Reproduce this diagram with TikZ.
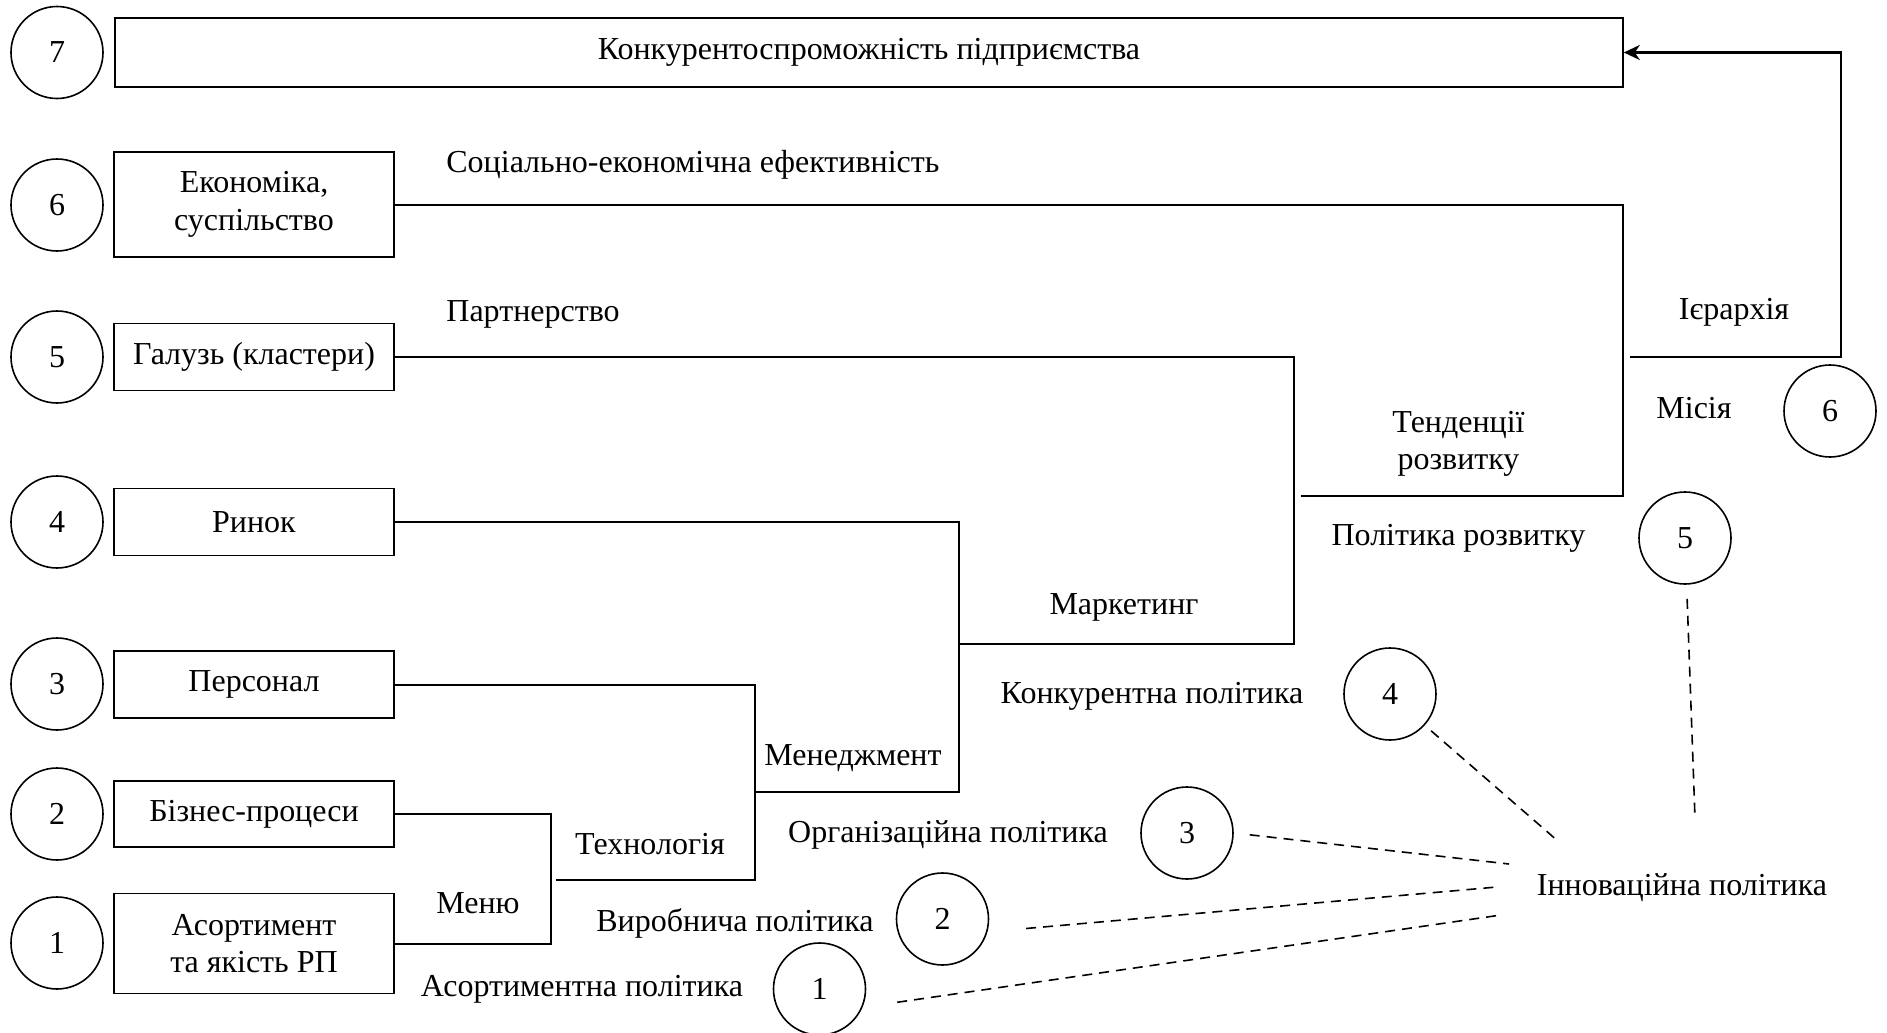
\documentclass[tikz,border=0pt]{standalone}
\usepackage{fontspec}
\setmainfont{Liberation Serif}
\usetikzlibrary{arrows.meta}

\begin{document}
\begin{tikzpicture}[x=0.5pt,y=-0.5pt,
  font=\fontsize{16}{18.8}\selectfont,
  box/.style={draw,line width=0.8pt,minimum width=140pt,minimum height=33.5pt,align=center},
  num/.style={draw,circle,line width=0.8pt,minimum size=46pt,inner sep=0pt},
  lbl/.style={inner sep=0pt,text height=0.95em,text depth=0pt},
  lbltwo/.style={inner sep=0pt,align=center},
  link/.style={line width=1pt},
  hint/.style={line width=0.8pt,dash pattern=on 5pt off 3.5pt}]
  \useasboundingbox (0,0) rectangle (1887,1033);

  \node[num] (n7) at (57,52.5)  {7};
  \node[num] (n6) at (57,205)   {6};
  \node[num] (n5) at (57,357)   {5};
  \node[num] (n4) at (57,522)   {4};
  \node[num] (n3) at (57,684)   {3};
  \node[num] (n2) at (57,814)   {2};
  \node[num] (n1) at (57,943)   {1};

  \node[box,minimum width=754pt,minimum height=34.5pt] (b7) at (869,52.5) {Конкурентоспроможність підприємства};
  \node[box,minimum height=52.5pt] (b6) at (254,204.5) {Економіка,\\суспільство};
  \node[box] (b5) at (254,357)   {Галузь (кластери)};
  \node[box] (b4) at (254,522)   {Ринок};
  \node[box] (b3) at (254,684.5) {Персонал};
  \node[box,minimum height=33pt] (b2) at (254,814) {Бізнес-процеси};
  \node[box,minimum height=50pt] (b1) at (254,943.5) {Асортимент\\та якість РП};

  \coordinate (menu) at (551,880);
  \coordinate (tech) at (754.5,880);
  \coordinate (mgmt) at (959,792);
  \coordinate (mkt)  at (1294,644);
  \coordinate (tend) at (1623,496);
  \coordinate (hier) at (1841,357);

  \draw[link] (b2.east) -| (menu) |- (b1.east);
  \draw[link,shorten >=2.5pt] (b3.east) -| (tech) -- (menu);
  \draw[link] (b4.east) -| (mgmt) -- (mgmt -| tech);
  \draw[link] (b5.east) -| (mkt) -- (mkt -| mgmt);
  \draw[link,shorten >=3.5pt] (b6.east) -| (tend) -- (tend -| mkt);
  \draw[link,line width=1.4pt,shorten <=3.5pt,-{Stealth[length=8pt,width=7.5pt,inset=2.5pt]}]
    (tend |- hier) -- (hier) |- (b7.east);

  \node[lbl,anchor=west] (lsoc)  at (446,163) {Соціально-економічна ефективність};
  \node[lbl,anchor=west] (lpart) at (446,312) {Партнерство};
  \node[lbl] (lmenu) at (478,904)  {Меню};
  \node[lbl] (ltech) at (650,845)  {Технологія};
  \node[lbl] (lmen)  at (853,756)  {Менеджмент};
  \node[lbl] (lmark) at (1124,605) {Маркетинг};
  \node[lbltwo] (lten) at (1458.5,444) {Тенденції\\розвитку};
  \node[lbl] (lier)  at (1734,310) {Ієрархія};
  \node[lbl] (lmis)  at (1694,409) {Місія};

  \node[num] (r6) at (1830,411)   {6};
  \node[num] (r5) at (1685,538)   {5};
  \node[num] (r4) at (1390,694)   {4};
  \node[num] (r3) at (1187,833)   {3};
  \node[num] (r2) at (942.5,919)  {2};
  \node[num] (r1) at (819.5,989)  {1};

  \node[lbl] (lrozv)  at (1458.5,536) {Політика розвитку};
  \node[lbl] (lkonk)  at (1152,694)   {Конкурентна політика};
  \node[lbl] (lorg)   at (948,833)    {Організаційна політика};
  \node[lbl] (lvyr)   at (735,922)    {Виробнича політика};
  \node[lbl] (lasort) at (582,987)    {Асортиментна політика};
  \node[lbl] (linn)   at (1682,886)   {Інноваційна політика};

  \coordinate (in1) at (1501,915);
  \coordinate (in2) at (1497,887);
  \coordinate (in3) at (1509,864);
  \coordinate (in4) at (1559,842);
  \coordinate (in5) at (1695,818);

  \draw[hint,shorten <=17.5pt] (r1.-23) -- (in1);
  \draw[hint,shorten <=19.4pt] (r2.-16) -- (in2);
  \draw[hint,shorten <=8pt]    (r3.east) -- (in3);
  \draw[hint,shorten <=4.2pt]  (r4.-42) -- (in4);
  \draw[hint,shorten <=7pt]    (r5.-88) -- (in5);
\end{tikzpicture}
\end{document}
